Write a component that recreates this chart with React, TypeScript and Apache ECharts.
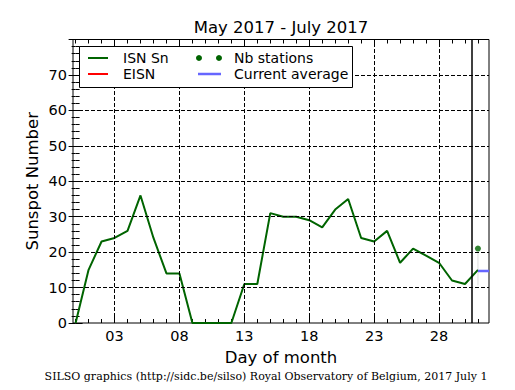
import React, { useEffect, useRef } from 'react';
import * as echarts from 'echarts';

const days = [0, 1, 2, 3, 4, 5, 6, 7, 8, 9, 10, 11, 12, 13, 14, 15, 16, 17, 18, 19, 20, 21, 22, 23, 24, 25, 26, 27, 28, 29, 30, 31];
const isnSn = [0, 15, 23, 24, 26, 36, 24, 14, 14, 0, 0, 0, 0, 11, 11, 31, 30, 30, 29, 27, 32, 35, 24, 23, 26, 17, 21, 19, 17, 12, 11, 15];
const majorDays = [3, 8, 13, 18, 23, 28];
const yGridValues = [10, 20, 30, 40, 50, 60, 70];
const lastDay = 31;
const nbStations = [21];
const currentAverage = 14.7;
const errorBar = [10.6, 20];
const separatorDay = 30.5;
const xMin = -0.2;
const xMax = 31.85;

const GREEN = '#006400';
const FONT = 'DejaVu Sans';

export default function App() {
  const ref = useRef<HTMLDivElement>(null);
  useEffect(() => {
    const chart = echarts.init(ref.current!, null, { renderer: 'svg' });
    const gridLeft = 73, gridTop = 39.5, gridRight = 489, gridBottom = 323;
    const xAxisBase = {
      type: 'value', min: xMin, max: xMax, gridIndex: 0,
      axisLine: { show: false }, splitLine: { show: false },
    };
    const option: any = {
      animation: false,
      backgroundColor: '#fff',
      grid: {
        left: gridLeft, top: gridTop, width: gridRight - gridLeft, height: gridBottom - gridTop,
        show: true, borderColor: '#000', borderWidth: 1, backgroundColor: 'transparent',
      },
      xAxis: [
        {
          ...xAxisBase, position: 'bottom',
          axisTick: { show: true, inside: true, length: 7, customValues: majorDays, lineStyle: { color: '#000' } },
          axisLabel: {
            show: true, customValues: majorDays, margin: 5,
            formatter: (v: number) => (v < 10 ? '0' + v : String(v)),
            color: '#000', fontFamily: FONT, fontSize: 14.5,
          },
        },
        {
          ...xAxisBase, position: 'bottom',
          axisTick: { show: true, inside: true, length: 4, customValues: days, lineStyle: { color: '#000' } },
          axisLabel: { show: false },
        },
        {
          ...xAxisBase, position: 'top',
          axisTick: { show: true, inside: true, length: 7, customValues: majorDays, lineStyle: { color: '#000' } },
          axisLabel: { show: false },
        },
        {
          ...xAxisBase, position: 'top',
          axisTick: { show: true, inside: true, length: 4, customValues: days, lineStyle: { color: '#000' } },
          axisLabel: { show: false },
        },
      ],
      yAxis: [
        {
          type: 'value', min: 0, max: 80, interval: 10, position: 'left',
          axisLine: { show: false },
          axisTick: { show: true, inside: true, length: 7, lineStyle: { color: '#000' } },
          minorTick: { show: true, splitNumber: 5, length: 4, lineStyle: { color: '#000' } },
          axisLabel: {
            formatter: (v: number) => (v >= 80 ? '' : String(v)),
            color: '#000', fontFamily: FONT, fontSize: 14.5, margin: 6,
          },
          splitLine: { show: false },
        },
        {
          type: 'value', min: 0, max: 80, interval: 10, position: 'right',
          axisLine: { show: false },
          axisTick: { show: true, inside: true, length: 7, lineStyle: { color: '#000' } },
          minorTick: { show: true, splitNumber: 5, length: 4, lineStyle: { color: '#000' } },
          axisLabel: { show: false },
          splitLine: { show: false },
        },
      ],
      series: [
        {
          type: 'line', xAxisIndex: 0, yAxisIndex: 0, silent: true, symbol: 'none',
          lineStyle: { color: '#dcdcdc', width: 1 },
          data: errorBar.map((v) => [lastDay, v]),
          markLine: {
            silent: true, symbol: 'none', label: { show: false },
            lineStyle: { color: '#000', width: 1, type: 'dashed' },
            emphasis: { disabled: true },
            data: [
              ...majorDays.map((d) => ({ xAxis: d })),
              ...yGridValues.map((v) => ({ yAxis: v })),
            ],
          },
        },
        {
          name: 'ISN Sn', type: 'line', xAxisIndex: 0, yAxisIndex: 0, symbol: 'none',
          lineStyle: { color: GREEN, width: 2 },
          data: days.map((d, i) => [d, isnSn[i]]),
          markLine: {
            silent: true, symbol: 'none', label: { show: false },
            lineStyle: { color: '#000', type: 'solid', width: 1.5 },
            emphasis: { disabled: true },
            data: [{ xAxis: separatorDay }],
          },
        },
        {
          name: 'Current average', type: 'line', xAxisIndex: 0, yAxisIndex: 0, symbol: 'none',
          lineStyle: { color: '#6666ff', width: 2.5 },
          data: [[lastDay, currentAverage], [xMax, currentAverage]],
        },
        {
          name: 'Nb stations', type: 'scatter', xAxisIndex: 0, yAxisIndex: 0,
          symbolSize: 6, itemStyle: { color: GREEN },
          data: nbStations.map((v) => [lastDay, v]),
        },
      ],
      graphic: [
        {
          type: 'text', x: (gridLeft + gridRight) / 2, y: 27,
          style: { text: 'May 2017 - July 2017', fontFamily: FONT, fontSize: 16.5, fill: '#000', align: 'center', verticalAlign: 'middle' },
        },
        {
          type: 'text', x: (gridLeft + gridRight) / 2, y: 357,
          style: { text: 'Day of month', fontFamily: FONT, fontSize: 16.5, fill: '#000', align: 'center', verticalAlign: 'middle' },
        },
        {
          type: 'text', x: 32, y: (gridTop + gridBottom) / 2, rotation: Math.PI / 2,
          style: { text: 'Sunspot Number', fontFamily: FONT, fontSize: 16.5, fill: '#000', align: 'center', verticalAlign: 'middle' },
        },
        {
          type: 'text', x: 266, y: 376,
          style: { text: 'SILSO graphics (http://sidc.be/silso) Royal Observatory of Belgium, 2017 July 1', fontFamily: 'DejaVu Serif', fontSize: 11, fill: '#000', align: 'center', verticalAlign: 'middle' },
        },
        {
          type: 'rect', shape: { x: 79.5, y: 46.5, width: 273, height: 41 },
          style: { fill: '#fff', stroke: '#000', lineWidth: 1 }, z: 100,
        },
        { type: 'line', shape: { x1: 88, y1: 58, x2: 108, y2: 58 }, style: { stroke: GREEN, lineWidth: 2 }, z: 101 },
        { type: 'line', shape: { x1: 88, y1: 74, x2: 108, y2: 74 }, style: { stroke: '#ff0000', lineWidth: 2 }, z: 101 },
        { type: 'circle', shape: { cx: 199, cy: 58, r: 3 }, style: { fill: GREEN }, z: 101 },
        { type: 'circle', shape: { cx: 219, cy: 58, r: 3 }, style: { fill: GREEN }, z: 101 },
        { type: 'line', shape: { x1: 198, y1: 74, x2: 221, y2: 74 }, style: { stroke: '#6666ff', lineWidth: 2.5 }, z: 101 },
        { type: 'text', x: 123, y: 58, style: { text: 'ISN Sn', fontFamily: FONT, fontSize: 14, fill: '#000', verticalAlign: 'middle' }, z: 101 },
        { type: 'text', x: 123, y: 74, style: { text: 'EISN', fontFamily: FONT, fontSize: 14, fill: '#000', verticalAlign: 'middle' }, z: 101 },
        { type: 'text', x: 234, y: 58, style: { text: 'Nb stations', fontFamily: FONT, fontSize: 14, fill: '#000', verticalAlign: 'middle' }, z: 101 },
        { type: 'text', x: 234, y: 74, style: { text: 'Current average', fontFamily: FONT, fontSize: 14, fill: '#000', verticalAlign: 'middle' }, z: 101 },
      ],
    };
    chart.setOption(option);
    return () => chart.dispose();
  }, []);
  return <div ref={ref} style={{ position: 'fixed', left: 0, top: 0, width: 515, height: 390, background: '#fff' }} />;
}
